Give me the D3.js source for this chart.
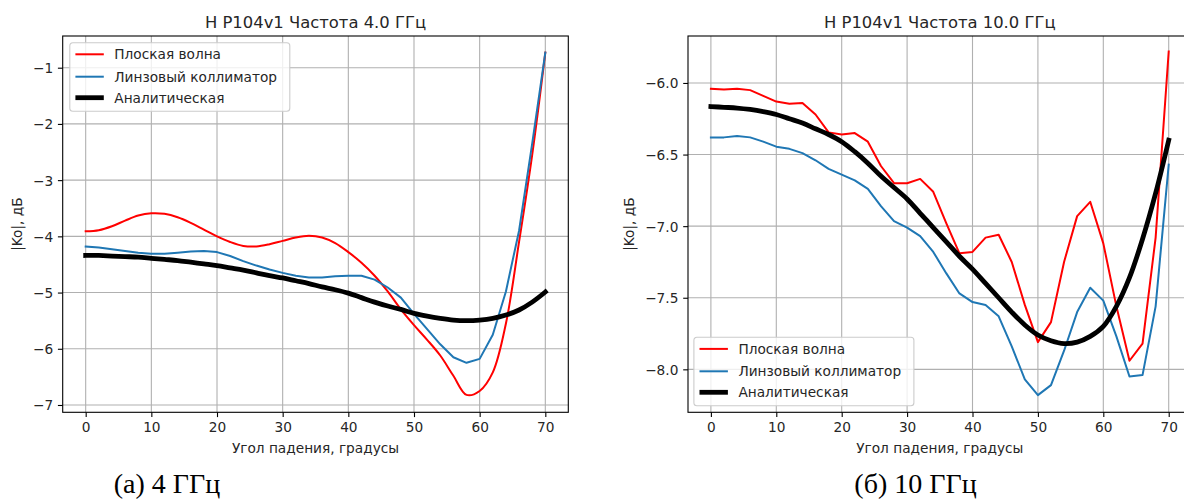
<!DOCTYPE html>
<html><head><meta charset="utf-8">
<script src="https://cdn.jsdelivr.net/npm/d3@7"></script>
<style>body{margin:0;background:#fff;overflow:hidden}svg{display:block}</style>
</head><body>
<svg id="c" width="1184" height="502"></svg>
<script>
// ---- data ----
const angles = [0,2,4,6,8,10,12,14,16,18,20,22,24,26,28,30,32,34,36,38,40,42,44,46,48,50,52,54,56,58,60,62,64,66,68,70];

const leftRed = [-3.91,-3.89,-3.82,-3.72,-3.63,-3.59,-3.60,-3.66,-3.76,-3.88,-4.00,-4.10,-4.17,-4.18,-4.14,-4.08,-4.02,-3.99,
                 -4.02,-4.12,-4.28,-4.47,-4.70,-4.98,-5.30,-5.58,-5.84,-6.12,-6.48,-6.82,-6.75,-6.42,-5.55,-4.10,-2.55,-0.73];
const leftBlue = [-4.18,-4.20,-4.23,-4.26,-4.29,-4.31,-4.31,-4.29,-4.27,-4.26,-4.28,-4.35,-4.44,-4.52,-4.59,-4.65,-4.70,-4.73,
                  -4.73,-4.71,-4.70,-4.70,-4.77,-4.91,-5.09,-5.38,-5.65,-5.92,-6.15,-6.25,-6.18,-5.75,-4.98,-3.90,-2.35,-0.73];
const leftAnalytic = [-4.34,-4.34,-4.35,-4.36,-4.37,-4.39,-4.41,-4.43,-4.46,-4.49,-4.52,-4.56,-4.60,-4.65,-4.70,-4.74,-4.79,-4.84,
                      -4.90,-4.95,-5.01,-5.09,-5.17,-5.24,-5.30,-5.37,-5.42,-5.46,-5.49,-5.50,-5.49,-5.46,-5.40,-5.31,-5.17,-4.99];

const rightRed = [-6.04,-6.045,-6.04,-6.05,-6.09,-6.13,-6.145,-6.14,-6.22,-6.345,-6.36,-6.35,-6.41,-6.58,-6.70,-6.70,-6.67,-6.76,
                  -6.98,-7.19,-7.18,-7.08,-7.06,-7.25,-7.55,-7.81,-7.67,-7.25,-6.93,-6.83,-7.12,-7.56,-7.94,-7.82,-7.08,-5.78];
const rightBlue = [-6.38,-6.38,-6.37,-6.38,-6.41,-6.445,-6.46,-6.49,-6.54,-6.60,-6.64,-6.68,-6.74,-6.86,-6.965,-7.01,-7.07,-7.18,
                   -7.33,-7.47,-7.53,-7.55,-7.63,-7.84,-8.07,-8.18,-8.11,-7.87,-7.60,-7.43,-7.52,-7.77,-8.05,-8.04,-7.56,-6.57];
const rightAnalytic = [-6.165,-6.17,-6.175,-6.185,-6.20,-6.22,-6.25,-6.28,-6.32,-6.36,-6.41,-6.48,-6.56,-6.65,-6.73,-6.81,-6.91,-7.01,
                       -7.11,-7.21,-7.30,-7.40,-7.50,-7.60,-7.69,-7.76,-7.80,-7.82,-7.81,-7.77,-7.70,-7.56,-7.36,-7.09,-6.77,-6.40];

const xTicks = [0,10,20,30,40,50,60,70];
const leftYTicks = [-7,-6,-5,-4,-3,-2,-1];
const rightYTicks = [-8.0,-7.5,-7.0,-6.5,-6.0];
const seriesNames = ["Плоская волна","Линзовый коллиматор","Аналитическая"];
const titles = ["H P104v1 Частота 4.0 ГГц","H P104v1 Частота 10.0 ГГц"];
const captions = ["(а) 4 ГГц","(б) 10 ГГц"];
const xLabel = "Угол падения, градусы";
const yLabel = "|Ko|, дБ";

// ---- styles ----
const colors = ["#ff0000","#1f77b4","#000000"];
const widths = [2,2,4.8];
const FONT = "'DejaVu Sans', sans-serif";
const fs = 13.7;
const smooth = d3.curveCatmullRom.alpha(0.5);

const svg = d3.select("#c");
svg.append("rect").attr("width",1184).attr("height",502).attr("fill","#fff");

const panels = [
  {id:"L", x0:62.7, x1:568.3, y0:36, y1:412.3, yDom:[-7.130,-0.436], yTicks:leftYTicks, fmt:d3.format("d"),
   series:[leftRed,leftBlue,leftAnalytic], curves:[smooth,d3.curveLinear,smooth],
   title:titles[0], legend:{x:69.8,y:42.7}, ylabX:22, caption:captions[0], capX:167},
  {id:"R", x0:688, x1:1191.6, y0:36, y1:412.3, yDom:[-8.300,-5.672], yTicks:rightYTicks, fmt:d3.format(".1f"),
   series:[rightRed,rightBlue,rightAnalytic], curves:[d3.curveLinear,d3.curveLinear,smooth],
   title:titles[1], legend:{x:693.9,y:337.3}, ylabX:634, caption:captions[1], capX:915.5}
];

panels.forEach(p => {
  const x = d3.scaleLinear().domain([-3.5,73.5]).range([p.x0,p.x1]);
  const y = d3.scaleLinear().domain(p.yDom).range([p.y1,p.y0]);
  const g = svg.append("g");

  // grid
  g.selectAll(".gx").data(xTicks).enter().append("line")
    .attr("x1",d=>x(d)).attr("x2",d=>x(d)).attr("y1",p.y0).attr("y2",p.y1)
    .attr("stroke","#b0b0b0").attr("stroke-width",1.1);
  g.selectAll(".gy").data(p.yTicks).enter().append("line")
    .attr("x1",p.x0).attr("x2",p.x1).attr("y1",d=>y(d)).attr("y2",d=>y(d))
    .attr("stroke","#b0b0b0").attr("stroke-width",1.1);

  // clip
  svg.append("clipPath").attr("id","clip"+p.id).append("rect")
    .attr("x",p.x0).attr("y",p.y0).attr("width",p.x1-p.x0).attr("height",p.y1-p.y0);
  const lg = g.append("g").attr("clip-path",`url(#clip${p.id})`);
  p.series.forEach((vals,i) => {
    const line = d3.line().x((d,j)=>x(angles[j])).y(d=>y(d)).curve(p.curves[i]);
    lg.append("path").attr("d",line(vals)).attr("fill","none")
      .attr("stroke",colors[i]).attr("stroke-width",widths[i])
      .attr("stroke-linejoin","round").attr("stroke-linecap","square");
  });

  // axes
  const xa = g.append("g").attr("transform",`translate(0,${p.y1})`)
    .call(d3.axisBottom(x).tickValues(xTicks).tickSize(4.8).tickPadding(4.8).tickFormat(d3.format("d")));
  const ya = g.append("g").attr("transform",`translate(${p.x0},0)`)
    .call(d3.axisLeft(y).tickValues(p.yTicks).tickSize(4.8).tickPadding(4.8).tickFormat(d=>p.fmt(d).replace("-","\u2212")));
  [xa,ya].forEach(a => {
    a.select(".domain").remove();
    a.selectAll("line").attr("stroke","#000").attr("stroke-width",1.1);
    a.selectAll("text").attr("font-family",FONT).attr("font-size",fs).attr("fill","#262626");
  });
  xa.selectAll("text").attr("dy","0.72em");
  ya.selectAll("text").attr("dy","0.36em");

  // frame
  g.append("rect").attr("x",p.x0).attr("y",p.y0).attr("width",p.x1-p.x0).attr("height",p.y1-p.y0)
    .attr("fill","none").attr("stroke","#000").attr("stroke-width",1.1);

  // title & labels
  const cx = (p.x0+p.x1)/2;
  g.append("text").attr("x",cx).attr("y",28.3).attr("text-anchor","middle")
    .attr("font-family",FONT).attr("font-size",16.4).attr("fill","#262626").text(p.title);
  g.append("text").attr("x",cx).attr("y",453.3).attr("text-anchor","middle")
    .attr("font-family",FONT).attr("font-size",fs).attr("fill","#262626").text(xLabel);
  g.append("text").attr("transform",`translate(${p.ylabX},${(p.y0+p.y1)/2}) rotate(-90)`)
    .attr("text-anchor","middle").attr("font-family",FONT).attr("font-size",fs).attr("fill","#262626").text(yLabel);

  // legend
  const L = g.append("g").attr("transform",`translate(${p.legend.x},${p.legend.y})`);
  L.append("rect").attr("width",220).attr("height",68.5).attr("rx",3)
    .attr("fill","#fff").attr("fill-opacity",0.8).attr("stroke","#cccccc").attr("stroke-width",1.1);
  const rowY = [11.6,34,55];
  seriesNames.forEach((n,i) => {
    L.append("line").attr("x1",5.6).attr("x2",34).attr("y1",rowY[i]).attr("y2",rowY[i])
      .attr("stroke",colors[i]).attr("stroke-width",widths[i]);
    L.append("text").attr("x",44.5).attr("y",rowY[i]).attr("dy","0.36em")
      .attr("font-family",FONT).attr("font-size",fs).attr("fill","#262626").text(n);
  });

  // caption
  svg.append("text").attr("x",p.capX).attr("y",493).attr("text-anchor","middle")
    .attr("font-family","'Liberation Serif', 'DejaVu Serif', serif").attr("font-size",28).attr("fill","#000").text(p.caption);
});
</script>
</body></html>
